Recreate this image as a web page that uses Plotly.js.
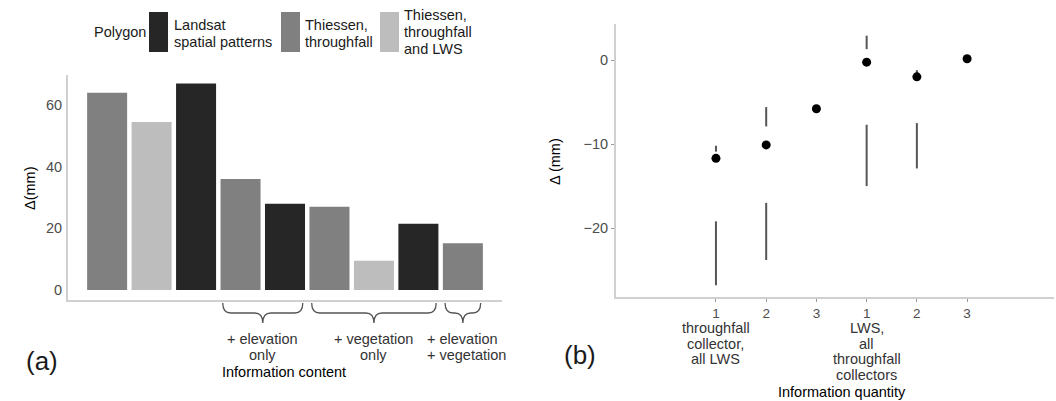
<!DOCTYPE html>
<html>
<head>
<meta charset="utf-8">
<script src="https://cdn.plot.ly/plotly-3.0.1.min.js"></script>
<style>html,body{margin:0;padding:0;background:#fff;}#chart{width:1056px;height:401px;}</style>
</head>
<body>
<div id="chart"></div>
<script>
// ---------- Panel (a) data ----------
const barPositions = [0, 1, 2, 3, 4, 5, 6, 7, 8];
const barValues = [64, 54.5, 67, 36, 28, 27, 9.5, 21.5, 15.2];
const barPolygon = ['Thiessen, throughfall', 'Thiessen, throughfall and LWS', 'Landsat',
                    'Thiessen, throughfall', 'Landsat',
                    'Thiessen, throughfall', 'Thiessen, throughfall and LWS', 'Landsat',
                    'Thiessen, throughfall'];
const polygonNames = ['Landsat', 'Thiessen, throughfall', 'Thiessen, throughfall and LWS'];
const polygonLabels = ['Landsat\nspatial patterns', 'Thiessen,\nthroughfall', 'Thiessen,\nthroughfall\nand LWS'];
const contentGroups = ['+ elevation\nonly', '+ vegetation\nonly', '+ elevation\n+ vegetation'];
const groupStart = [3, 5, 8];
const groupEnd = [4, 7, 8];
const aTicks = [0, 20, 40, 60];

// ---------- Panel (b) data ----------
const quantityPos = [1, 2, 3, 4, 5, 6];
const quantityTicks = ['1', '2', '3', '1', '2', '3'];
const pointValues = [-11.7, -10.1, -5.8, -0.25, -2.0, 0.15];
const segX = [1, 1, 2, 2, 4, 4, 5, 5];
const segLow = [-10.9, -26.8, -7.9, -23.8, 1.3, -15.0, -1.7, -12.9];
const segHigh = [-10.2, -19.2, -5.6, -17.0, 2.9, -7.7, -1.2, -7.5];
const quantityGroups = ['throughfall\ncollector,\nall LWS', 'LWS,\nall\nthroughfall\ncollectors'];
const quantityGroupPos = [1, 4];
const bTicks = [0, -10, -20];

// ---------- styling ----------
const W = 1056, H = 401;
const FONT = 'Liberation Sans, Arial, Helvetica, sans-serif';
const FS = 14.5;
const polyColor = {'Landsat': '#262626', 'Thiessen, throughfall': '#808080', 'Thiessen, throughfall and LWS': '#bdbdbd'};
const px = v => v / W;
const py = v => 1 - v / H;
const axisLine = '#d0d0d0';
const tickTxt = '#4d4d4d';

const traces = [
  {
    type: 'bar', x: barPositions, y: barValues, width: 0.9,
    marker: {color: barPolygon.map(p => polyColor[p]), line: {width: 0}},
    xaxis: 'x', yaxis: 'y', showlegend: false, hoverinfo: 'skip'
  }
];

// segments for (b)
const lx = [], ly = [];
segX.forEach((x, i) => { lx.push(x, x, null); ly.push(segLow[i], segHigh[i], null); });
traces.push({type: 'scatter', mode: 'lines', x: lx, y: ly, xaxis: 'x2', yaxis: 'y2',
  line: {color: '#555555', width: 2}, showlegend: false, hoverinfo: 'skip'});
traces.push({type: 'scatter', mode: 'markers', x: quantityPos, y: pointValues, xaxis: 'x2', yaxis: 'y2',
  marker: {color: '#000000', size: 9}, showlegend: false, hoverinfo: 'skip'});

const annotations = [];
const shapes = [];
function lines(text, x, xref, yTopPx, spacing, opts) {
  text.split('\n').forEach((t, i) => {
    annotations.push(Object.assign({
      text: t, x: x, xref: xref, y: py(yTopPx + i * spacing), yref: 'paper',
      xanchor: 'center', yanchor: 'middle', showarrow: false,
      font: {family: FONT, size: FS, color: '#333333'}
    }, opts || {}));
  });
}

// legend (a)
lines('Polygon', px(92), 'paper', 32, 0, {xanchor: 'left', font: {family: FONT, size: FS, color: '#1a1a1a'}});
const keyX = [149, 281, 380];
const labX = [172, 303, 402];
const labY = [25, 25, 15];
polygonNames.forEach((p, i) => {
  shapes.push({type: 'rect', xref: 'paper', yref: 'paper', x0: px(keyX[i]), x1: px(keyX[i] + 19),
    y0: py(52), y1: py(12), fillcolor: polyColor[p], line: {width: 0}});
  lines(polygonLabels[i], px(labX[i]), 'paper', labY[i], 17, {xanchor: 'left', font: {family: FONT, size: FS, color: '#1a1a1a'}});
});

// braces + group labels (a)
const yT = py(303), yM = py(313), yB = py(323), r = 0.18;
contentGroups.forEach((g, i) => {
  const x0 = groupStart[i] - 0.4, x1 = groupEnd[i] + 0.4, xm = (groupStart[i] + groupEnd[i]) / 2;
  const path = `M ${x0},${yT} Q ${x0},${yM} ${x0 + r},${yM} L ${xm - r},${yM} Q ${xm},${yM} ${xm},${yB} ` +
               `Q ${xm},${yM} ${xm + r},${yM} L ${x1 - r},${yM} Q ${x1},${yM} ${x1},${yT}`;
  shapes.push({type: 'path', xref: 'x', yref: 'paper', path: path, line: {color: '#555555', width: 1.3}});
  if (i === 2) {
    lines(g, groupStart[i] - 0.85, 'x', 339, 16, {xanchor: 'left'});
  } else {
    lines(g, xm, 'x', 339, 16);
  }
});
lines('Information content', px(284), 'paper', 372, 0, {font: {family: FONT, size: FS, color: '#000000'}});
annotations.push({text: 'Δ(mm)', x: px(20), y: py(188), xref: 'paper', yref: 'paper', textangle: -90,
  showarrow: false, font: {family: FONT, size: FS, color: '#000000'}});
annotations.push({text: '(a)', x: px(24), y: py(378), xref: 'paper', yref: 'paper', showarrow: false,
  font: {family: FONT, size: 26, color: '#1a1a1a'}});

// panel (b) labels
quantityGroups.forEach((g, i) => lines(g, quantityGroupPos[i], 'x2', 328, 15.6));
lines('Information quantity', px(842), 'paper', 392, 0, {font: {family: FONT, size: FS, color: '#000000'}});
annotations.push({text: 'Δ (mm)', x: px(555), y: py(162), xref: 'paper', yref: 'paper', textangle: -90,
  showarrow: false, font: {family: FONT, size: FS, color: '#000000'}});
annotations.push({text: '(b)', x: px(580), y: py(372), xref: 'paper', yref: 'paper', showarrow: false,
  font: {family: FONT, size: 26, color: '#1a1a1a'}});

const layout = {
  width: W, height: H, margin: {l: 0, r: 0, t: 0, b: 0},
  paper_bgcolor: '#ffffff', plot_bgcolor: '#ffffff', showlegend: false,
  font: {family: FONT, size: FS, color: tickTxt},
  xaxis: {domain: [px(68), px(502)], range: [-0.88, 8.88], showgrid: false, zeroline: false,
    showticklabels: false, ticks: '', showline: true, linecolor: axisLine, linewidth: 2, fixedrange: true},
  yaxis: {domain: [py(300), py(75)], range: [-3.24, 69.73], showgrid: false, zeroline: false,
    tickvals: aTicks, ticks: '', showline: true, linecolor: axisLine, linewidth: 2,
    tickfont: {family: FONT, size: FS, color: tickTxt}, ticklabelstandoff: 1},
  xaxis2: {domain: [px(616), px(1054)], range: [-0.99, 7.73], anchor: 'y2', showgrid: false, zeroline: false,
    tickvals: quantityPos, ticktext: quantityTicks, ticks: 'outside', ticklen: 3, tickcolor: '#999999',
    showline: true, linecolor: axisLine, linewidth: 2, tickfont: {family: FONT, size: 13.5, color: tickTxt}},
  yaxis2: {domain: [py(297), py(24)], range: [-28.2, 4.29], anchor: 'x2', showgrid: false, zeroline: false,
    tickvals: bTicks, ticks: 'outside', ticklen: 3, tickcolor: '#999999',
    showline: true, linecolor: axisLine, linewidth: 2, tickfont: {family: FONT, size: FS, color: tickTxt}},
  shapes: shapes, annotations: annotations
};

Plotly.newPlot('chart', traces, layout, {staticPlot: true});
</script>
</body>
</html>
